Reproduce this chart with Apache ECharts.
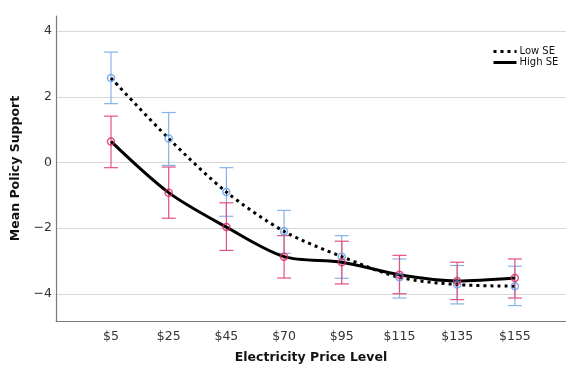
<!DOCTYPE html>
<html>
<head>
<meta charset="utf-8">
<script src="https://cdn.jsdelivr.net/npm/echarts@6/dist/echarts.min.js"></script>
<style>
html,body{margin:0;padding:0;background:#fff;}
#c{width:566px;height:370px;}
</style>
</head>
<body>
<div id="c"></div>
<script>
const categories = ['$5', '$25', '$45', '$70', '$95', '$115', '$135', '$155'];
const lowMean  = [2.57, 0.73, -0.90, -2.10, -2.87, -3.50, -3.72, -3.77];
const lowLower = [1.79, -0.09, -1.64, -2.77, -3.53, -4.13, -4.31, -4.36];
const lowUpper = [3.36, 1.52, -0.16, -1.46, -2.23, -2.94, -3.14, -3.16];
const highMean  = [0.64, -0.92, -1.97, -2.87, -3.04, -3.42, -3.61, -3.52];
const highLower = [-0.16, -1.70, -2.68, -3.52, -3.70, -4.00, -4.18, -4.13];
const highUpper = [1.41, -0.14, -1.23, -2.23, -2.40, -2.83, -3.04, -2.94];
const yTicks = [-4, -2, 0, 2, 4];
const seriesNames = ['Low SE', 'High SE'];

const FONT = 'DejaVu Sans';
const BLUE_BAR = '#86b3ea';
const BLUE_MK = '#5f9de4';
const RED_BAR = '#e2517f';
const RED_MK = '#d8285f';

const xIdx = categories.map((c, i) => i + 1);
const pts = (m) => m.map((v, i) => [xIdx[i], v]);
const bars = (lo, hi) => lo.map((v, i) => [xIdx[i], v, hi[i]]);

function errRender(color) {
  return function (params, api) {
    const x = api.value(0);
    const a = api.coord([x, api.value(1)]);
    const b = api.coord([x, api.value(2)]);
    const hw = 7;
    const st = { stroke: color, lineWidth: 1.2 };
    return {
      type: 'group',
      children: [
        { type: 'line', shape: { x1: a[0], y1: a[1], x2: b[0], y2: b[1] }, style: st },
        { type: 'line', shape: { x1: a[0] - hw, y1: a[1], x2: a[0] + hw, y2: a[1] }, style: st },
        { type: 'line', shape: { x1: b[0] - hw, y1: b[1], x2: b[0] + hw, y2: b[1] }, style: st }
      ]
    };
  };
}

const chart = echarts.init(document.getElementById('c'), null, { renderer: 'canvas' });
chart.setOption({
  animation: false,
  backgroundColor: '#fff',
  textStyle: { fontFamily: FONT },
  grid: { left: 56, right: 0, top: 16, bottom: 49 },
  legend: {
    data: seriesNames,
    orient: 'vertical',
    left: 492,
    top: 46,
    padding: 0,
    itemWidth: 23,
    itemHeight: 10,
    itemGap: 0,
    itemStyle: { opacity: 0 },
    lineStyle: { width: 3 },
    textStyle: { fontFamily: FONT, fontSize: 10, color: '#111', lineHeight: 11, padding: [0, 0, 0, -2] }
  },
  xAxis: {
    type: 'value',
    min: 0.047,
    max: 8.886,
    name: 'Electricity Price Level',
    nameLocation: 'middle',
    nameGap: 30,
    nameTextStyle: { fontFamily: FONT, fontSize: 12.5, fontWeight: 'bold', color: '#111' },
    axisLine: { show: true, onZero: false, lineStyle: { color: '#7a7a7a', width: 1.2 } },
    axisTick: { show: false, customValues: xIdx },
    axisLabel: {
      customValues: xIdx,
      formatter: (v) => categories[Math.round(v) - 1],
      fontFamily: FONT, fontSize: 12.5, color: '#333', margin: 9
    },
    splitLine: { show: false }
  },
  yAxis: {
    type: 'value',
    min: -4.83,
    max: 4.46,
    name: 'Mean Policy Support',
    nameLocation: 'middle',
    nameGap: 30,
    nameTextStyle: { fontFamily: FONT, fontSize: 12.5, fontWeight: 'bold', color: '#111' },
    axisLine: { show: true, lineStyle: { color: '#7a7a7a', width: 1.2 } },
    axisTick: { show: false, customValues: yTicks },
    axisLabel: {
      customValues: yTicks,
      formatter: (v) => String(v).replace('-', '\u2212'),
      fontFamily: FONT, fontSize: 12.5, color: '#333', margin: 4
    },
    splitLine: { show: true, lineStyle: { color: '#d8d8d8', width: 1.2 } }
  },
  series: [
    { name: 'Low SE err', type: 'custom', renderItem: errRender(BLUE_BAR), data: bars(lowLower, lowUpper), z: 1, silent: true },
    { name: 'High SE err', type: 'custom', renderItem: errRender(RED_BAR), data: bars(highLower, highUpper), z: 1, silent: true },
    {
      name: seriesNames[0], type: 'line', data: pts(lowMean), smooth: 0.3, symbol: 'none', z: 3,
      itemStyle: { color: '#000' },
      lineStyle: { color: '#000', width: 3, type: [3, 4], cap: 'butt' }
    },
    {
      name: seriesNames[1], type: 'line', data: pts(highMean), smooth: 0.3, symbol: 'none', z: 3,
      itemStyle: { color: '#000' },
      lineStyle: { color: '#000', width: 3, type: 'solid' }
    },
    {
      name: 'Low SE pts', type: 'scatter', data: pts(lowMean), symbol: 'circle', symbolSize: 7, z: 4,
      itemStyle: { color: 'rgba(0,0,0,0)', borderColor: BLUE_MK, borderWidth: 1.5 }
    },
    {
      name: 'High SE pts', type: 'scatter', data: pts(highMean), symbol: 'circle', symbolSize: 7, z: 4,
      itemStyle: { color: 'rgba(0,0,0,0)', borderColor: RED_MK, borderWidth: 1.5 }
    }
  ]
});
</script>
</body>
</html>
